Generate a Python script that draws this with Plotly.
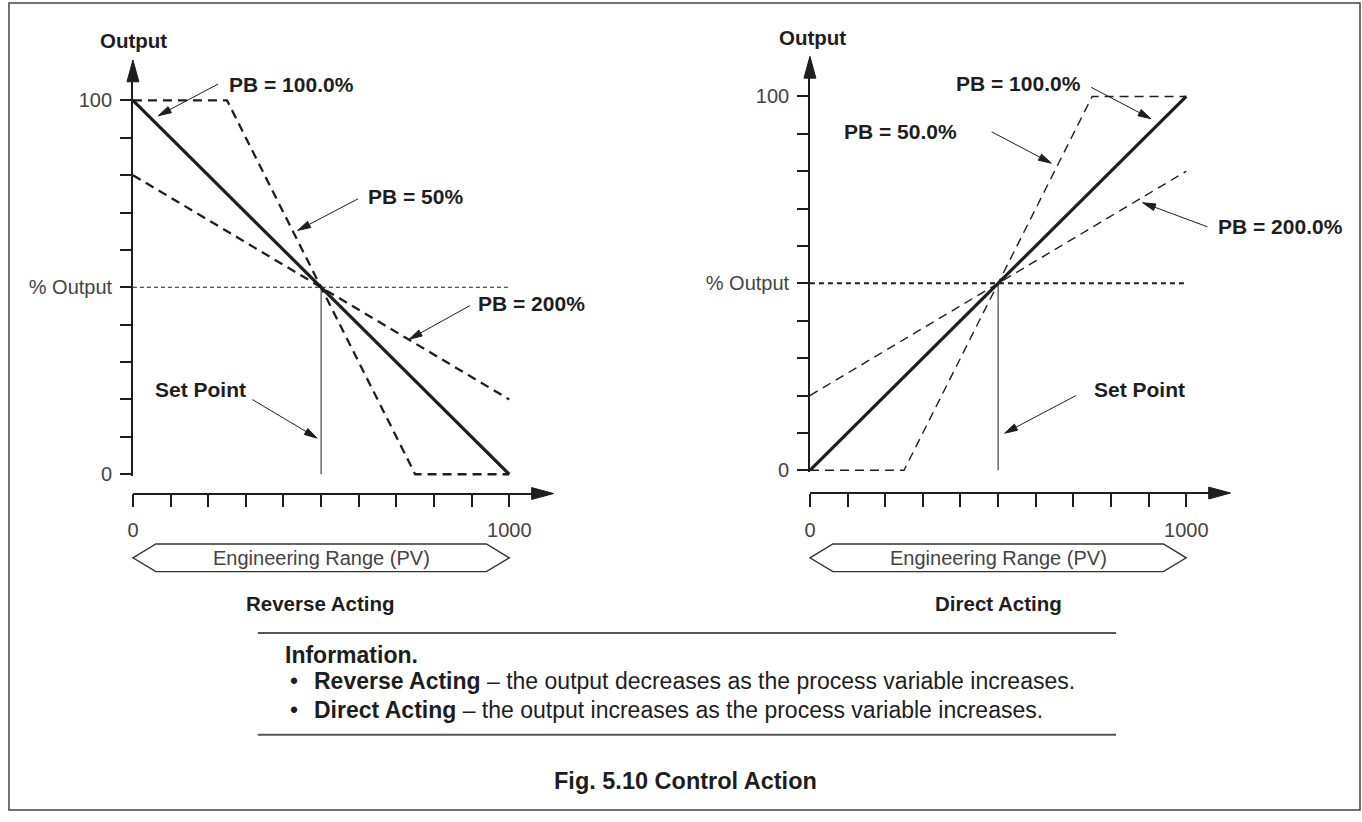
import math
import plotly.graph_objects as go

W, H = 1362, 822

# ---- data: process variable (engineering units) vs. output (%) ----
set_point = 500
pct_output = 50

rev_pb100_x = [0, 1000]
rev_pb100_y = [100, 0]
rev_pb50_x = [0, 250, 750, 1000]
rev_pb50_y = [100, 100, 0, 0]
rev_pb200_x = [0, 1000]
rev_pb200_y = [80, 20]

dir_pb100_x = [0, 1000]
dir_pb100_y = [0, 100]
dir_pb50_x = [0, 250, 750, 1000]
dir_pb50_y = [0, 0, 100, 100]
dir_pb200_x = [0, 1000]
dir_pb200_y = [20, 80]

x_ticks = list(range(0, 1001, 100))
x_ticktext = ["0"] + [""] * 9 + ["1000"]
y_ticks = list(range(0, 101, 10))
y_ticktext = ["0", "", "", "", "", "% Output", "", "", "", "", "100"]

FONT = "Liberation Sans, Arial, Helvetica, sans-serif"
INK = "#1e1e1e"
SX = 0.378   # px per engineering unit
SY = 3.78    # px per % output


def px(x):
    return x / W


def py(y):
    return 1 - y / H


def pt(x, y):
    return f"{px(x):.5f},{py(y):.5f}"


def arrow_path(tail, tip, head_len=13, head_w=7):
    """Shaft + filled head, built in pixels, returned in paper coords."""
    dx, dy = tip[0] - tail[0], tip[1] - tail[1]
    d = math.hypot(dx, dy)
    ux, uy = dx / d, dy / d
    bx, by = tip[0] - ux * head_len, tip[1] - uy * head_len
    nx, ny = -uy * head_w / 2, ux * head_w / 2
    return (f"M {pt(*tail)} L {pt(bx, by)} "
            f"M {pt(bx + nx, by + ny)} L {pt(*tip)} L {pt(bx - nx, by - ny)} Z")


fig = go.Figure()

dash_l = dict(color=INK, width=2.3, dash="9px,6px")
dash_r = dict(color=INK, width=1.4, dash="9px,6px")
panels = [
    dict(ax="", xs=(rev_pb100_x, rev_pb50_x, rev_pb200_x), ys=(rev_pb100_y, rev_pb50_y, rev_pb200_y),
         dash=dash_l, dot=dict(color=INK, width=1.1, dash="4px,3px"),
         ox=127.5, oy=479.5, xline=499.0, ytop=82.7, xend=528.0),
    dict(ax="2", xs=(dir_pb100_x, dir_pb50_x, dir_pb200_x), ys=(dir_pb100_y, dir_pb50_y, dir_pb200_y),
         dash=dash_r, dot=dict(color=INK, width=2.0, dash="5px,4px"),
         ox=807.5, oy=475.5, xline=498.5, ytop=79.0, xend=1208.0),
]

layout_axes = {}
shapes = []
for p in panels:
    xa, ya = "x" + p["ax"], "y" + p["ax"]
    # set point and % output reference lines
    fig.add_trace(go.Scatter(x=[0, 1000], y=[pct_output, pct_output], mode="lines",
                             line=p["dot"], xaxis=xa, yaxis=ya, hoverinfo="skip"))
    fig.add_trace(go.Scatter(x=[set_point, set_point], y=[0, pct_output], mode="lines",
                             line=dict(color=INK, width=1), xaxis=xa, yaxis=ya, hoverinfo="skip"))
    # PB = 50% and PB = 200% (dashed), PB = 100% (solid)
    for i in (1, 2):
        fig.add_trace(go.Scatter(x=p["xs"][i], y=p["ys"][i], mode="lines", line=p["dash"],
                                 xaxis=xa, yaxis=ya, hoverinfo="skip"))
    fig.add_trace(go.Scatter(x=p["xs"][0], y=p["ys"][0], mode="lines",
                             line=dict(color=INK, width=3.2), xaxis=xa, yaxis=ya, hoverinfo="skip"))

    tick = dict(showgrid=False, zeroline=False, showline=True, linecolor=INK, linewidth=1.6,
                ticks="outside", tickcolor=INK, tickwidth=1.6,
                tickfont=dict(family=FONT, size=20, color="#444444"))
    layout_axes["xaxis" + p["ax"]] = dict(
        tick, domain=[px(p["ox"]), px(p["xend"])], range=[0, (p["xend"] - p["ox"]) / SX],
        anchor="free", position=py(p["xline"]), ticklen=13,
        tickvals=x_ticks, ticktext=x_ticktext, ticklabelstandoff=6)
    layout_axes["yaxis" + p["ax"]] = dict(
        tick, domain=[py(p["oy"] + 0.5 * SY), py(p["ytop"])],
        range=[-0.5, (p["oy"] - p["ytop"]) / SY], anchor=xa, ticklen=11,
        tickvals=y_ticks, ticktext=y_ticktext, ticklabelstandoff=4)

    # axis arrowheads
    ox = p["ox"]
    shapes.append(dict(type="path", xref="paper", yref="paper", line=dict(color=INK, width=1),
                       fillcolor=INK, path=arrow_path((ox, p["ytop"]), (ox, p["ytop"] - 22), 22, 12)))
    shapes.append(dict(type="path", xref="paper", yref="paper", line=dict(color=INK, width=1),
                       fillcolor=INK, path=arrow_path((p["xend"], p["xline"]), (p["xend"] + 22, p["xline"]), 22, 12)))
    # engineering range box
    l, r = ox, ox + 1000 * SX
    box = (f"M {pt(l, 564)} L {pt(l + 23, 550)} L {pt(r - 23, 550)} L {pt(r, 564)} "
           f"L {pt(r - 23, 578)} L {pt(l + 23, 578)} Z")
    shapes.append(dict(type="path", xref="paper", yref="paper", path=box,
                       line=dict(color="#333333", width=1.4)))

# label arrows: (tail, tip)
label_arrows = [
    ((213, 85), (153, 117)), ((353.6, 201), (293, 233)), ((466, 309), (405, 343)),
    ((247.5, 404), (312.5, 443)),
    ((1090, 88.3), (1150, 120)), ((990, 133.3), (1050, 165)), ((1206.7, 229.3), (1141.7, 205)),
    ((1074.6, 400), (1003, 438)),
]
for tail, tip in label_arrows:
    shapes.append(dict(type="path", xref="paper", yref="paper", path=arrow_path(tail, tip),
                       line=dict(color=INK, width=1), fillcolor=INK))

# rules around the information block and the frame
for yy in (640, 743):
    shapes.append(dict(type="line", xref="paper", yref="paper", x0=px(253), x1=px(1115),
                       y0=py(yy), y1=py(yy), line=dict(color="#555555", width=2)))
shapes.append(dict(type="rect", xref="paper", yref="paper", x0=px(3), x1=px(1360),
                   y0=py(819), y1=py(3), line=dict(color="#444444", width=1.5)))

labels = [
    # text, x, y, anchor, size, colour
    ("<b>Output</b>", 128, 41, "center", 20.5, INK),
    ("<b>PB = 100.0%</b>", 222, 85, "left", 21, INK),
    ("<b>PB = 50%</b>", 362, 199, "left", 21, INK),
    ("<b>PB = 200%</b>", 472, 307, "left", 21, INK),
    ("<b>Set Point</b>", 148, 394, "left", 21, INK),
    ("Engineering Range (PV)", 316.5, 564, "center", 20, "#444444"),
    ("<b>Reverse Acting</b>", 316, 610, "center", 20.5, INK),
    ("<b>Output</b>", 810, 38, "center", 20.5, INK),
    ("<b>PB = 100.0%</b>", 952, 84, "left", 21, INK),
    ("<b>PB = 50.0%</b>", 840, 133, "left", 21, INK),
    ("<b>PB = 200.0%</b>", 1215, 229, "left", 21, INK),
    ("<b>Set Point</b>", 1091, 394, "left", 21, INK),
    ("Engineering Range (PV)", 996.5, 564, "center", 20, "#444444"),
    ("<b>Direct Acting</b>", 997, 610, "center", 20.5, INK),
    ("<b>Information.</b>", 278, 662, "left", 23, INK),
    ("•", 283, 689, "left", 23, INK),
    ("<b>Reverse Acting</b> – the output decreases as the process variable increases.",
     307, 689, "left", 23, INK),
    ("•", 283, 718, "left", 23, INK),
    ("<b>Direct Acting</b> – the output increases as the process variable increases.",
     307, 718, "left", 23, INK),
    ("<b>Fig. 5.10 Control Action</b>", 682.5, 790, "center", 23.5, INK),
]
annotations = [
    dict(text=t, x=px(x), y=py(y), xref="paper", yref="paper", xanchor=a, yanchor="middle",
         showarrow=False, font=dict(family=FONT, size=s, color=c))
    for t, x, y, a, s, c in labels
]

fig.update_layout(
    width=W, height=H,
    margin=dict(l=0, r=0, t=0, b=0),
    paper_bgcolor="white", plot_bgcolor="white",
    showlegend=False,
    shapes=shapes,
    annotations=annotations,
    font=dict(family=FONT, color=INK),
    **layout_axes,
)

# drop the browser's default body margin so the 1362x822 figure fills the window
fig.write_html("out.html", config={"displayModeBar": False},
               post_script="document.body.style.margin='0';")
